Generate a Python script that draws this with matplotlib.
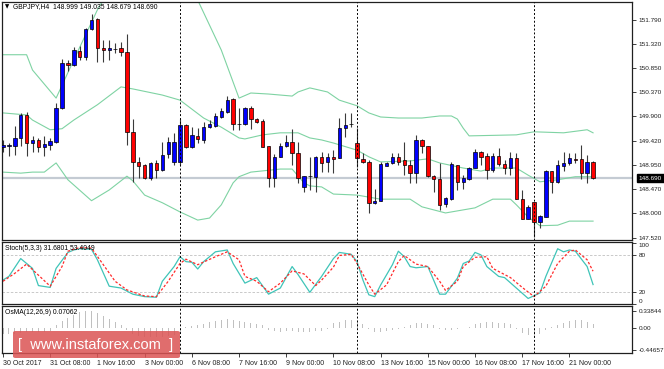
import numpy as np
import matplotlib
matplotlib.use("Agg")
import matplotlib.pyplot as plt
from matplotlib.patches import FancyBboxPatch

plt.rcParams['font.family'] = ['Liberation Sans', 'DejaVu Sans']

# --- GBPJPY H4 candles (30 Oct 2017 00:00 .. 21 Nov 2017 16:00) ---
opens = [149.302, 149.330, 149.321, 149.478, 149.929, 149.380, 149.439, 149.302, 149.341, 149.400,
         150.066, 150.948, 150.909, 151.182, 151.065, 151.614, 151.810, 151.241, 151.202, 151.222,
         151.241, 151.163, 149.596, 149.009, 148.950, 148.695, 148.989, 148.852, 149.165, 149.009,
         149.009, 149.733, 149.302, 149.517, 149.439, 149.694, 149.714, 149.890, 149.988, 150.243,
         149.753, 149.753, 150.066, 149.851, 149.812, 149.321, 148.695, 149.107, 149.321, 149.400,
         149.185, 148.519, 148.734, 148.715, 149.107, 149.009, 149.107, 149.087, 149.674, 149.753,
         149.380, 149.068, 149.009, 148.205, 148.245, 148.930, 148.989, 149.107, 149.048, 148.950,
         148.793, 149.439, 149.321, 148.734, 148.676, 148.186, 148.284, 148.950, 148.617, 148.676,
         148.891, 149.204, 149.126, 148.852, 149.126, 148.970, 148.891, 149.087, 148.284, 147.892,
         148.225, 147.833, 147.931, 148.832, 148.617, 148.930, 148.989, 149.068, 149.068, 148.793,
         148.999]
highs = [149.439, 149.380, 149.713, 149.968, 149.988, 149.517, 149.478, 149.517, 149.478, 150.164,
         151.027, 151.007, 151.261, 151.280, 151.633, 151.908, 151.829, 151.398, 151.398, 151.339,
         151.359, 151.516, 149.851, 149.107, 148.970, 149.009, 149.048, 149.400, 149.498, 149.576,
         149.851, 149.753, 149.694, 149.674, 149.792, 149.831, 149.968, 150.066, 150.301, 150.262,
         150.066, 150.086, 150.105, 149.870, 149.851, 149.321, 149.165, 149.380, 149.537, 149.655,
         149.400, 148.734, 149.107, 149.126, 149.204, 149.185, 149.243, 149.870, 149.968, 149.968,
         149.674, 149.185, 149.048, 148.480, 149.009, 149.009, 149.185, 149.185, 149.400, 149.048,
         149.537, 149.459, 149.321, 148.754, 148.989, 148.323, 149.009, 148.950, 148.754, 148.911,
         149.263, 149.224, 149.185, 149.185, 149.283, 149.048, 149.204, 149.185, 148.460, 148.166,
         148.225, 147.970, 148.852, 148.832, 149.048, 149.204, 149.185, 149.185, 149.341, 149.145,
         149.035]
lows = [149.204, 149.125, 149.145, 149.321, 149.125, 149.204, 149.204, 149.125, 149.243, 149.380,
        150.047, 150.791, 150.889, 151.007, 151.007, 151.594, 150.968, 150.968, 151.007, 151.143,
        151.085, 149.341, 148.617, 148.695, 148.676, 148.656, 148.695, 148.832, 149.087, 148.950,
        148.950, 149.283, 149.283, 149.380, 149.380, 149.674, 149.694, 149.870, 149.968, 149.635,
        149.635, 149.733, 149.655, 149.772, 149.302, 148.519, 148.519, 149.107, 149.302, 148.950,
        148.597, 148.421, 148.460, 148.421, 148.813, 148.813, 148.793, 149.087, 149.498, 149.694,
        148.911, 148.989, 148.009, 148.186, 148.245, 148.930, 148.970, 148.950, 148.754, 148.597,
        148.597, 149.185, 148.715, 148.421, 148.068, 148.127, 148.264, 148.460, 148.480, 148.656,
        148.891, 148.950, 148.676, 148.813, 148.930, 148.774, 148.754, 148.284, 147.892, 147.892,
        147.539, 147.715, 147.931, 148.401, 148.597, 148.832, 148.950, 148.989, 148.676, 148.597,
        148.679]
closes = [149.341, 149.335, 149.478, 149.929, 149.380, 149.439, 149.302, 149.361, 149.419, 150.066,
          150.948, 150.909, 151.202, 151.065, 151.614, 151.790, 151.241, 151.202, 151.241, 151.218,
          151.163, 149.596, 149.009, 148.930, 148.695, 148.989, 148.852, 149.145, 149.400, 149.400,
          149.733, 149.302, 149.537, 149.459, 149.694, 149.753, 149.910, 150.007, 150.223, 149.753,
          149.743, 150.066, 149.851, 149.792, 149.302, 148.695, 149.107, 149.321, 149.400, 149.185,
          148.695, 148.734, 148.730, 149.107, 148.989, 149.107, 149.068, 149.674, 149.733, 149.750,
          149.087, 149.009, 148.205, 148.245, 148.970, 148.989, 149.107, 149.009, 148.950, 148.793,
          149.439, 149.321, 148.734, 148.676, 148.166, 148.303, 148.970, 148.617, 148.695, 148.891,
          149.204, 149.107, 148.852, 149.126, 148.970, 148.891, 149.087, 148.284, 147.892, 148.127,
          147.833, 147.951, 148.832, 148.617, 148.950, 148.989, 149.087, 149.048, 148.793, 149.009,
          148.690]

# Bollinger bands, read as (bar, price) vertices
bb_up_i = [0, 4, 5, 9, 12, 16, 17, 22, 28, 33, 37, 40, 42, 45, 49, 50, 52, 55, 57, 60, 62, 64, 67,
           71, 74, 76, 77, 78, 79, 87, 90, 95, 99, 100]
bb_up_v = [151.11, 151.11, 150.81, 150.26, 151.01, 151.99, 152.18, 152.77, 152.77, 152.18, 151.20,
           150.26, 150.36, 150.34, 150.30, 150.38, 150.46, 150.38, 150.22, 150.11, 149.97, 149.89,
           149.87, 149.87, 149.91, 149.91, 149.85, 149.67, 149.52, 149.54, 149.60, 149.58, 149.64,
           149.58]
bb_mid_i = [0, 2, 4, 5, 8, 10, 12, 16, 20, 22, 27, 30, 34, 37, 40, 41, 44, 47, 50, 52, 54, 56, 60,
            62, 64, 69, 72, 74, 78, 81, 83, 87, 89, 91, 94, 97, 100]
bb_mid_v = [149.97, 149.95, 149.93, 149.83, 149.64, 149.66, 149.83, 150.13, 150.48, 150.44, 150.32,
            150.22, 149.87, 149.69, 149.48, 149.46, 149.54, 149.58, 149.58, 149.48, 149.44, 149.38,
            149.24, 149.11, 149.01, 149.03, 149.07, 148.99, 148.89, 148.83, 148.89, 148.89, 148.75,
            148.62, 148.66, 148.72, 148.72]
bb_lo_i = [0, 3, 5, 7, 9, 11, 15, 18, 21, 22, 24, 27, 30, 33, 35, 37, 39, 40, 42, 47, 49, 51, 52,
           54, 56, 60, 64, 69, 71, 75, 78, 80, 83, 86, 87, 89, 91, 94, 96, 100]
bb_lo_v = [148.81, 148.79, 148.81, 148.81, 148.99, 148.66, 148.25, 148.46, 148.73, 148.64, 148.36,
           148.21, 148.03, 147.87, 147.91, 148.17, 148.60, 148.72, 148.81, 148.87, 148.87, 148.60,
           148.54, 148.52, 148.38, 148.36, 148.28, 148.28, 148.13, 148.01, 148.07, 148.11, 148.28,
           148.28, 148.17, 147.93, 147.76, 147.77, 147.85, 147.85]

# Stochastic (5,3,3) %K and signal, (bar, value) vertices
stk_i = [0, 1, 3, 5, 6, 8, 9, 11, 12, 13, 15, 16, 18, 20, 22, 24, 26, 27, 29, 30, 31, 32, 33, 34, 36,
         38, 39, 41, 43, 45, 47, 49, 50, 52, 54, 56, 57, 59, 60, 61, 62, 63, 64, 66, 67, 68, 69, 70,
         72, 74, 75, 77, 78, 79, 80, 81, 82, 84, 85, 87, 89, 91, 92, 94, 95, 96, 97, 99, 100]
stk_v = [39, 45, 74, 58, 30, 27, 58, 84, 88, 90, 89, 72, 29, 26, 16, 12, 11, 37, 61, 77, 69, 68, 57,
         69, 85, 88, 66, 34, 43, 16, 26, 61, 48, 19, 45, 74, 84, 81, 69, 39, 15, 12, 31, 64, 86, 77,
         61, 59, 61, 16, 16, 42, 66, 70, 84, 80, 61, 45, 43, 26, 9, 18, 45, 90, 85, 88, 86, 61, 31.68]
sig_i = [0, 2, 4, 6, 8, 10, 11, 13, 15, 17, 19, 21, 24, 26, 28, 30, 31, 33, 36, 38, 40, 41, 43, 45,
         47, 49, 51, 53, 54, 56, 57, 59, 60, 62, 63, 65, 67, 68, 70, 72, 74, 75, 77, 78, 80, 82, 83,
         86, 88, 90, 92, 94, 96, 97, 99, 100]
sig_v = [37, 50, 65, 47, 29, 61, 86, 92, 91, 64, 37, 23, 13, 12, 37, 66, 73, 64, 77, 85, 72, 45, 37,
         20, 34, 54, 49, 30, 39, 60, 79, 81, 66, 31, 16, 31, 69, 79, 65, 61, 37, 22, 37, 61, 76, 77,
         58, 43, 27, 12, 29, 66, 86, 88, 72, 53.40]

# OsMA (12,26,9) histogram, one value per bar
osma = [-0.13, -0.13, -0.12, -0.10, -0.09, -0.09, -0.08, -0.08, -0.07, 0.05,
        0.14, 0.20, 0.26, 0.31, 0.338, 0.33, 0.29, 0.24, 0.18, 0.12,
        0.06, -0.05, -0.12, -0.16, -0.18, -0.19, -0.19, -0.18, -0.17, -0.14,
        -0.12, 0.02, 0.04, 0.06, 0.08, 0.11, 0.13, 0.15, 0.17, 0.16,
        0.14, 0.12, 0.10, 0.08, 0.05, -0.04, -0.07, -0.08, -0.07, -0.07,
        -0.08, -0.09, -0.08, -0.07, -0.06, -0.03, 0.09, 0.12, 0.15, 0.16,
        0.12, 0.08, -0.03, -0.08, -0.08, -0.07, -0.05, -0.03, 0.02, 0.06,
        0.09, 0.10, 0.08, 0.05, -0.03, -0.05, -0.04, -0.02, -0.01, 0.02,
        0.07, 0.10, 0.11, 0.11, 0.10, 0.09, 0.07, -0.02, -0.10, -0.14,
        -0.17, -0.13, -0.05, 0.02, 0.05, 0.10, 0.14, 0.16, 0.15, 0.12,
        0.07062]

price_ticks = [151.790, 151.320, 150.850, 150.370, 149.900, 149.420, 148.950, 148.470, 148.000, 147.520]
last_price = 148.690
week_starts = [30, 60, 90]
time_pos = [0, 8, 16, 24, 32, 40, 48, 56, 64, 72, 80, 88, 96]
time_labels = ['30 Oct 2017', '31 Oct 08:00', '1 Nov 16:00', '3 Nov 00:00', '6 Nov 08:00',
               '7 Nov 16:00', '9 Nov 00:00', '10 Nov 08:00', '13 Nov 16:00', '15 Nov 00:00',
               '16 Nov 08:00', '17 Nov 16:00', '21 Nov 00:00']

W, H = 664, 369
BB_COL = '#7fd3a3'

def box(top, bottom, left=2, right=632):
    return [left / W, 1 - bottom / H, (right - left) / W, (bottom - top) / H]

def ftext(xp, yp, s, **kw):
    return fig.text(xp / W, 1 - yp / H, s, **kw)

fig = plt.figure(figsize=(W / 100, H / 100), dpi=100)
fig.patch.set_facecolor('white')

ax = fig.add_axes(box(2, 240))
ax_st = fig.add_axes(box(241.5, 304), sharex=ax)
ax_os = fig.add_axes(box(305.5, 353), sharex=ax)

o = np.array(opens); h = np.array(highs); l = np.array(lows); c = np.array(closes)
x = np.arange(len(o))

# main panel
ax.axhline(last_price, color='#c4cbd3', lw=1.6, zorder=1)
ax.plot(bb_up_i, bb_up_v, color=BB_COL, lw=0.8, zorder=1.5)
ax.plot(bb_mid_i, bb_mid_v, color=BB_COL, lw=0.8, zorder=1.5)
ax.plot(bb_lo_i, bb_lo_v, color=BB_COL, lw=0.8, zorder=1.5)
ax.vlines(x, l, h, color='#3a3a3a', lw=0.8, zorder=2)
body_lo = np.minimum(o, c)
body_h = np.maximum(np.abs(c - o), 0.004)
colors = np.where(c >= o, '#0000ff', '#ff0000')
ax.bar(x, body_h, bottom=body_lo, width=0.58, color=colors, edgecolor='black',
       linewidth=0.5, zorder=3)

ax.set_xlim(-0.17, 106.6)
ax.set_ylim(147.48, 152.143)
ax.yaxis.tick_right()
ax.set_yticks(price_ticks)
ax.set_yticklabels(['%.3f' % p for p in price_ticks])
ax.annotate('%.3f' % last_price, xy=(1.0, last_price), xycoords=('axes fraction', 'data'),
            xytext=(5, 0), textcoords='offset points', va='center', ha='left',
            fontsize=4.6, color='white',
            bbox=dict(boxstyle='square,pad=0.25', fc='black', ec='black'))

# stochastic panel
for lev in (80, 20):
    ax_st.axhline(lev, color='#c0c0c0', lw=0.6, ls=(0, (3, 2)))
ax_st.plot(stk_i, stk_v, color='#3fc4b8', lw=0.9)
ax_st.plot(sig_i, sig_v, color='#ff2a2a', lw=0.9, ls=(0, (2, 1.5)))
ax_st.set_ylim(0, 101.8)
ax_st.yaxis.tick_right()
ax_st.set_yticks([100, 80, 20, 0])
ax_st.set_yticklabels(['100', '80', '20', '0'])
lbls = ax_st.get_yticklabels()
lbls[0].set_va('top')
lbls[3].set_va('bottom')

# OsMA panel
ax_os.bar(x, osma, width=0.17, color='#c0c0c0', linewidth=0)
ax_os.set_ylim(-0.513, 0.45)
ax_os.yaxis.tick_right()
ax_os.set_yticks([0.33844, 0.0, -0.44657])
ax_os.set_yticklabels(['0.33844', '0.00', '-0.44657'])

ax_os.set_xticks(time_pos)
ax_os.set_xticklabels(time_labels)
for t in ax_os.get_xticklabels():
    t.set_ha('left')

for a in (ax, ax_st, ax_os):
    for wk in week_starts:
        a.axvline(wk, color='black', lw=0.7, ls=(0, (2, 2)), zorder=4)
    for s in a.spines.values():
        s.set_color('#202020')
        s.set_linewidth(0.9)
    a.tick_params(axis='y', length=3, width=0.6, pad=2, labelsize=4.6, colors='#202020')
    a.set_facecolor('white')

ax.tick_params(axis='x', bottom=False, labelbottom=False)
ax_st.tick_params(axis='x', bottom=False, labelbottom=False)
ax_os.tick_params(axis='x', length=3, width=0.6, pad=2, labelsize=5.0, colors='#202020')

# header texts
ftext(5, 7, '\u25bc', fontsize=4, va='center', ha='left', family=['DejaVu Sans'])
ftext(13, 7, 'GBPJPY,H4  148.999 149.035 148.679 148.690', fontsize=4.9, va='center', ha='left')
ftext(5, 248, 'Stoch(5,3,3) 31.6801 53.4049', fontsize=4.9, va='center', ha='left')
ftext(5, 312, 'OsMA(12,26,9) 0.07062', fontsize=4.9, va='center', ha='left')

# watermark
wm = FancyBboxPatch((13 / W, 1 - 358 / H), 167 / W, 27 / H, boxstyle='round,pad=0,rounding_size=0.004',
                    transform=fig.transFigure, fc=(0.86, 0.33, 0.33, 0.85), ec='none', zorder=10)
fig.patches.append(wm)
ftext(96, 345, '[  www.instaforex.com  ]', fontsize=10.5, color='white', ha='center', va='center',
      zorder=11)

fig.savefig('out.png', dpi=100, facecolor='white')
